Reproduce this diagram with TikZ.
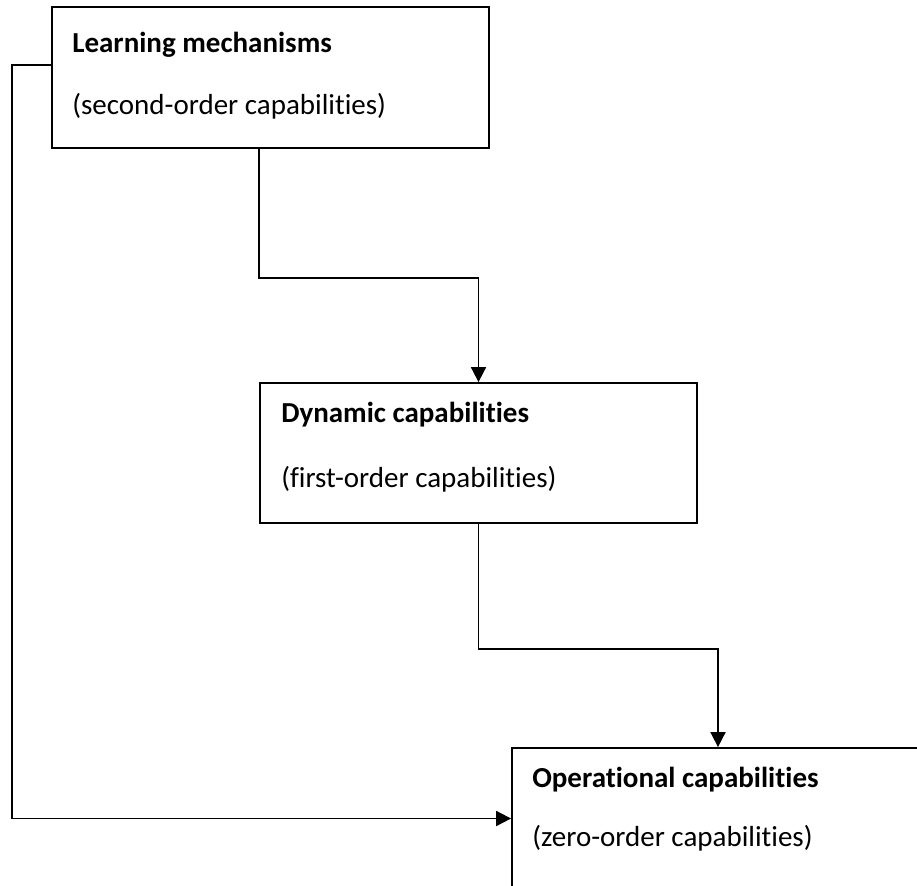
\documentclass[tikz,border=0pt]{standalone}
\usepackage{fontspec}
\setmainfont[RawFeature={-liga}]{Carlito}
\usetikzlibrary{arrows.meta}

\begin{document}
\begin{tikzpicture}[x=1pt,y=-1pt,
    box/.style={draw,line width=1.8pt,rectangle,inner sep=0pt},
    conn/.style={line width=1.8pt,-{Triangle[length=15pt,width=15pt]}},
    title/.style={anchor=base west,inner sep=0pt,font=\fontsize{29}{35}\selectfont\bfseries},
    sub/.style={anchor=base west,inner sep=0pt,font=\fontsize{29}{35}\selectfont}]
    \useasboundingbox (0,0) rectangle (917,885);
    \clip (0,0) rectangle (917,885);

    % Boxes
    \node[box,minimum width=437pt,minimum height=141pt] (learn) at (270.5,77.5) {};
    \node[box,minimum width=437pt,minimum height=140pt] (dyn) at (478.5,453) {};
    \node[box,minimum width=412pt,minimum height=141pt] (oper) at (718,818.5) {};

    % Box texts
    \node[title] (learnt) at ([shift={(21,46)}]learn.north west) {Learning mechanisms};
    \node[sub] (learns) at ([shift={(21,108)}]learn.north west) {(second-order capabilities)};
    \node[title] (dynt) at ([shift={(22,40)}]dyn.north west) {Dynamic capabilities};
    \node[sub] (dyns) at ([shift={(22,105)}]dyn.north west) {(first-order capabilities)};
    \node[title] (opert) at ([shift={(21,40)}]oper.north west) {Operational capabilities};
    \node[sub] (opers) at ([shift={(21,99)}]oper.north west) {(zero-order capabilities)};

    % Connectors
    \draw[conn] ([xshift=-11.5pt]learn.south) -- ++(0,129) -| (dyn.north);
    \draw[conn] (dyn.south) -- ++(0,125) -| (oper.north);
    \draw[conn] ([yshift=12.5pt]learn.west) -- ++(-39,0) |- (oper.west);

\end{tikzpicture}
\end{document}
